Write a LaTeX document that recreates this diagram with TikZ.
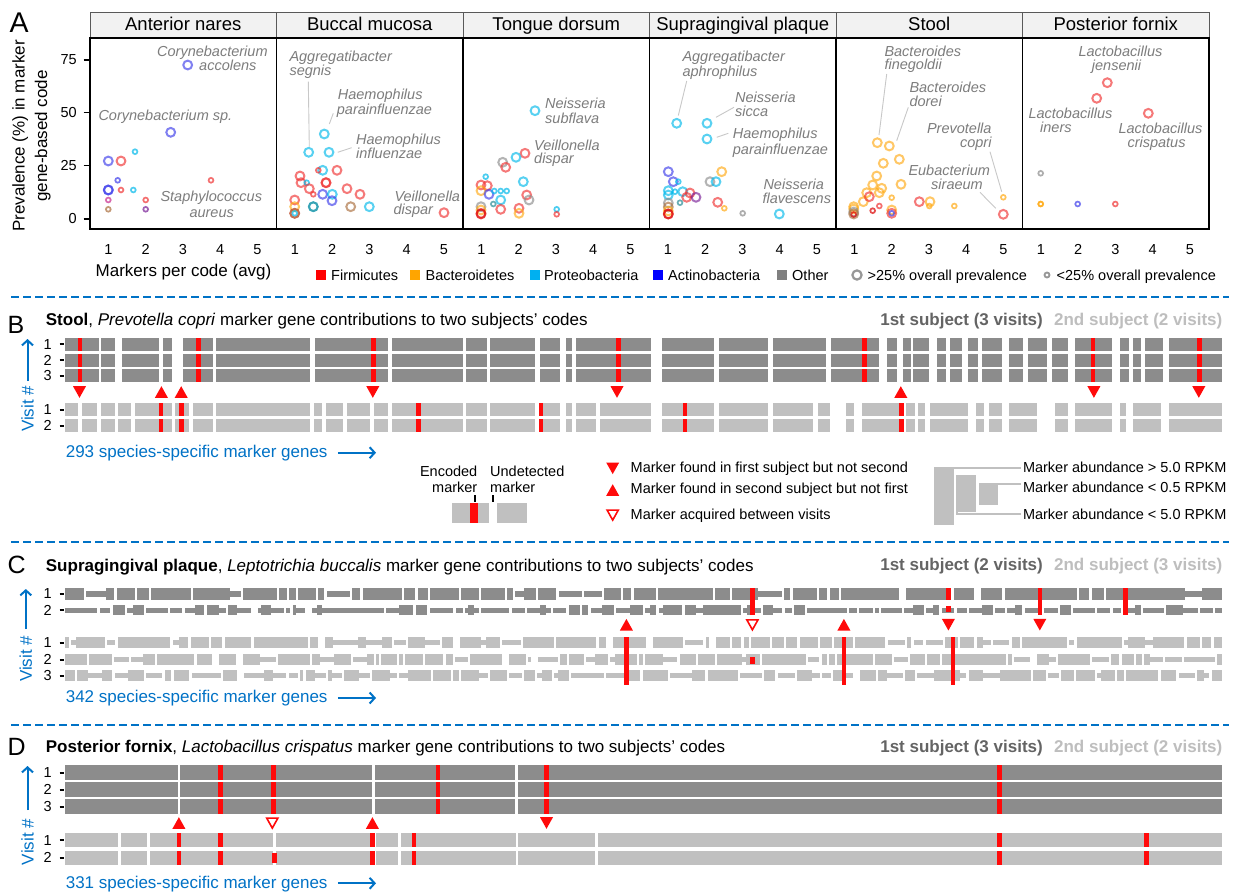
\documentclass[tikz,border=0pt]{standalone}
\usepackage{fontspec}
\setmainfont{Liberation Sans}
\usetikzlibrary{arrows.meta}
\newcommand{\setfs}[1]{\fontsize{#1}{#1}\selectfont}
\definecolor{dk}{RGB}{140,140,140}
\definecolor{lt}{RGB}{192,192,192}
\definecolor{mr}{RGB}{255,10,10}
\definecolor{vb}{RGB}{0,114,198}
\definecolor{labg}{RGB}{125,125,125}
\definecolor{leadg}{RGB}{200,200,200}
\definecolor{stripg}{RGB}{242,242,242}
\definecolor{sub1}{RGB}{100,100,100}
\definecolor{sub2}{RGB}{190,190,190}
\definecolor{pR}{RGB}{240,50,50}
\definecolor{pO}{RGB}{255,170,20}
\definecolor{pC}{RGB}{0,185,235}
\definecolor{pB}{RGB}{60,60,235}
\definecolor{pG}{RGB}{140,140,140}
\definecolor{pM}{RGB}{200,40,140}
\definecolor{pP}{RGB}{120,30,150}
\definecolor{pN}{RGB}{170,110,60}
\definecolor{pT}{RGB}{40,140,150}
\definecolor{pD}{RGB}{220,0,0}
\definecolor{lgR}{RGB}{255,0,0}
\definecolor{lgO}{RGB}{255,165,0}
\definecolor{lgC}{RGB}{0,176,240}
\definecolor{lgB}{RGB}{0,0,255}
\definecolor{lgG}{RGB}{128,128,128}
\tikzset{
  lab/.style={font=\setfs{14.5}\itshape, text=labg, inner sep=0pt, anchor=base west},
  labr/.style={lab, anchor=base east},
  tick/.style={font=\setfs{14.5}, inner sep=0pt},
  lgd/.style={font=\setfs{14.5}, inner sep=0pt, anchor=base west},
  leader/.style={draw=leadg, line width=0.9pt},
  ptb/.style={line width=2pt, radius=4.4pt, draw opacity=0.65},
  pts/.style={line width=1.7pt, radius=2.4pt, draw opacity=0.7},
  ttl/.style={font=\setfs{17}, inner sep=0pt, anchor=base west},
  letter/.style={font=\setfs{25}, inner sep=0pt, anchor=base west},
  subj/.style={font=\setfs{17}\bfseries, inner sep=0pt, anchor=base east},
  rowl/.style={font=\setfs{14.5}, inner sep=0pt, anchor=east},
  visit/.style={font=\setfs{17}, text=vb, rotate=90, inner sep=0pt},
  varrow/.style={draw=vb, line width=2pt, -{Straight Barb[length=5pt,width=11pt,line width=2pt]}},
  sep/.style={draw=vb, line width=1.6pt, dash pattern=on 8pt off 4pt},
  blue text/.style={font=\setfs{17}, text=vb, inner sep=0pt, anchor=base west}
}
\newcommand{\pts}[1]{\foreach \px/\py/\pc/\ps in {#1}{\draw[pt\ps, draw=p\pc] (\px,\py) circle;}}
\newcommand{\segrow}[4]{\foreach \sa/\sb in {#4}{\fill[#3] (\sa,#1-#2/2) rectangle (\sb,#1+#2/2);}}
\newcommand{\redv}[3]{\foreach \sa in {#3}{\fill[mr] (\sa-2.3,#1) rectangle (\sa+2.3,#2);}}
\newcommand{\tdn}[2]{\fill[mr] (#1-6.5,#2-5.8) -- (#1+6.5,#2-5.8) -- (#1,#2+5.8) -- cycle;}
\newcommand{\tup}[2]{\fill[mr] (#1-6.5,#2+5.8) -- (#1+6.5,#2+5.8) -- (#1,#2-5.8) -- cycle;}
\newcommand{\tho}[2]{\draw[mr, line width=1.6pt] (#1-5.6,#2-4.9) -- (#1+5.6,#2-4.9) -- (#1,#2+5.1) -- cycle;}
\newcommand{\rowlab}[3]{\node[rowl] (#3) at (52,#1) {#2}; \draw[line width=2pt] (59.5,#1) -- (63.8,#1);}
% textured row: y, height, colour, p(thin), seed, min length, max length
\newcommand{\texrow}[7]{%
  \pgfmathsetseed{#5}%
  \xdef\curx{65}%
  \foreach \ti in {0,...,260}{%
    \pgfmathsetmacro{\len}{#6+rnd*(#7-#6)}%
    \pgfmathsetmacro{\hh}{rnd<#4 ? 0.25*#2 : 0.5*#2}%
    \pgfmathsetmacro{\xb}{min(\curx+\len,1222)}%
    \ifdim\curx pt<1221pt \fill[#3] (\curx,#1-\hh) rectangle (\xb,#1+\hh);\fi
    \pgfmathsetmacro{\rr}{rnd}%
    \pgfmathsetmacro{\gp}{\rr<0.05 ? 7 : (\rr<0.55 ? 2.3 : 0)}%
    \pgfmathsetmacro{\nx}{\xb+\gp}%
    \xdef\curx{\nx}%
  }}
\begin{document}
\begin{tikzpicture}[x=1pt,y=-1pt]
\useasboundingbox (0,0) rectangle (1234,893);
\fill[white] (0,0) rectangle (1234,893);

%================ PANEL A ================
\node[font=\setfs{28.5}, inner sep=0pt, anchor=base west] (A) at (9.5,32.3) {A};
\foreach \i/\fname in {0/Anterior nares,1/Buccal mucosa,2/Tongue dorsum,3/Supragingival plaque,4/Stool,5/Posterior fornix}{
  \pgfmathsetmacro{\L}{90+186.5*\i}
  \pgfmathsetmacro{\R}{\L+186.5}
  \pgfmathsetmacro{\M}{\L+93.25}
  \draw[fill=stripg, draw=black!65, line width=0.8pt] (\L,12.7) rectangle (\R,38.3);
  \node[font=\setfs{18.5}, inner sep=0pt, anchor=base] (ft\i) at (\M,31) {\fname};
  \foreach \v in {1,...,5}{
    \node[tick, anchor=base] (xt\i\v) at ({\L+18.3+37.25*(\v-1)},255) {\v};
  }
}
% y axis
\foreach \v/\yy in {0/219,25/165.7,50/112.7,75/60}{
  \draw[line width=1.3pt] (83.5,\yy) -- (90,\yy);
  \node[tick, anchor=east] (yt\v) at (77,\yy) {\v};
}
\node[font=\fontsize{17}{22.5}\selectfont, rotate=90, align=center, inner sep=0pt] (ylab) at (31.5,136) {Prevalence (\%) in marker\\gene-based code};
\node[font=\setfs{17}, anchor=base, inner sep=0pt] (xlab) at (183.5,277) {Markers per code (avg)};

% leader lines
\draw[leader] (308.3,81.7) -- (309.3,146.7);
\draw[leader] (333.3,113.3) -- (329.3,124);
\draw[leader] (351.7,147.7) -- (337.7,152.3);
\draw[leader] (686.7,81) -- (678.3,115.5);
\draw[leader] (734,107.3) -- (716,117.3);
\draw[leader] (728.3,133.3) -- (716.7,137.3);
\draw[leader] (886.7,74) -- (879,135);
\draw[leader] (908.3,107.3) -- (896.7,140.7);
\draw[leader] (990,151.7) -- (1001.7,191.7);
\draw[leader] (980,192.3) -- (995.7,208.3);

% points
\pts{187.7/65/B/b, 170.7/132.3/B/b, 135/151.7/C/s, 108.3/161/B/b, 121/161/R/b, 117.7/180.3/B/s, 211/180.3/R/s, 108.3/190/B/b, 108.3/190/B/b, 121/190/R/s, 133.3/190/C/s, 108.3/200/M/s, 145.7/200/R/s, 108.3/209.3/N/s, 145.7/209.3/P/s}
\pts{324.3/134/C/b, 308.7/152.3/C/b, 329/152.3/C/b, 300/176/R/b, 322.7/170.3/C/b, 318.3/170.3/R/s, 337/170.3/R/b, 301/182.7/R/b, 306.7/182.7/C/s, 326/182.7/R/b, 326/182.7/R/b, 309.3/188.7/R/b, 313.3/194.3/R/s, 322.7/194.3/B/b, 332.3/194.3/C/b, 347/188.7/R/b, 360/194.3/R/b, 332/200.7/B/b, 313.3/206.7/C/b, 313.3/206.7/T/b, 369.3/206.7/C/b, 350.7/206.7/N/b, 294.7/200/R/b, 294.7/206.7/O/b, 294.7/213.3/R/b, 294.7/213.3/N/b, 294.7/213.3/C/s, 444/212.7/R/b}
\pts{535/110.7/C/b, 525/153.3/R/b, 516/157.3/C/b, 502.7/162.3/G/b, 505.7/167.3/R/b, 485.7/176.7/C/s, 523.3/181.7/C/b, 481/185/R/b, 487.3/185.7/R/b, 481/190.7/O/b, 489/194.3/B/b, 494.3/191/C/s, 500.7/191/C/s, 506.7/191/C/s, 500.7/200/C/b, 493.3/204/T/s, 526.7/195/R/b, 529/200/G/b, 500.7/209.3/R/b, 519/208.3/R/b, 519/213.3/O/b, 556.7/209.3/C/s, 556.7/214.3/R/s, 481/206.7/G/b, 481/210/O/b, 481/213.3/R/b, 481/214/D/b}
\pts{676.7/123.3/C/b, 707/123.3/C/b, 707/139/C/b, 721.7/171.7/O/b, 710/181.7/G/b, 716/181.7/C/b, 668.3/171.7/B/b, 673.3/181.7/B/b, 678.3/181.7/C/s, 668.3/190.7/C/b, 668.3/195/C/b, 675/191.7/C/s, 682.7/191.7/C/b, 686.7/197.3/R/b, 690/193/R/b, 696/197.3/P/b, 680/202.7/T/s, 717.7/202.3/R/b, 724.3/208.3/O/s, 742.7/213.3/G/s, 779.3/214/C/b, 668.3/203/G/b, 668.3/207/N/b, 668.3/211/O/b, 668.3/214/R/b, 668.3/214/D/b}
\pts{877.3/142.7/O/b, 889.3/146/O/b, 899.3/159.3/O/b, 883.3/163.3/O/b, 876.7/176/O/b, 901/184.3/O/b, 872.7/185/O/b, 881.7/188.3/O/b, 879.3/192.7/O/b, 866.7/192.7/O/b, 863.3/201.7/O/b, 891.7/197.7/O/s, 930/201.7/O/b, 929.3/206/O/s, 954.3/206/O/s, 891.7/210/O/b, 869.3/196.7/R/b, 879.3/206/R/s, 872.7/210.7/D/s, 919.3/201.7/R/b, 853.7/206.7/O/b, 853.7/209/O/b, 853.7/212/G/b, 853.7/214/N/b, 853.7/214.5/D/s, 891.7/213.3/R/b, 891.7/213.3/B/s, 1003.3/214.3/R/b, 1003.3/197.3/O/s}
\pts{1107.3/82.7/R/b, 1096.7/98.3/R/b, 1148.3/113.3/R/b, 1040.7/173.3/G/s, 1040.7/204/O/s, 1040.7/204/O/s, 1077.7/204/B/s, 1115.3/204/R/s}

% panel frames
\foreach \i in {0,...,5}{
  \pgfmathsetmacro{\L}{90+186.5*\i}
  \draw[line width=1.6pt] (\L,38.3) rectangle (\L+186.5,229.3);
}

% species labels
\node[lab] (l1a) at (157,56.5) {Corynebacterium};
\node[lab] (l1b) at (199,71) {accolens};
\node[lab] (l2) at (98.3,121) {Corynebacterium sp.};
\node[lab] (l3a) at (160.3,201.5) {Staphylococcus};
\node[lab] (l3b) at (189.3,217.5) {aureus};
\node[lab] (l4a) at (289.3,62) {Aggregatibacter};
\node[lab] (l4b) at (289.3,75.5) {segnis};
\node[lab] (l5a) at (337.7,100) {Haemophilus};
\node[lab] (l5b) at (336.7,115) {parainfluenzae};
\node[lab] (l6a) at (356,144.5) {Haemophilus};
\node[lab] (l6b) at (356,158.5) {influenzae};
\node[lab] (l7a) at (394.3,201.5) {Veillonella};
\node[lab] (l7b) at (393.3,215) {dispar};
\node[lab] (l8a) at (545,109) {Neisseria};
\node[lab] (l8b) at (545,124) {subflava};
\node[lab] (l9a) at (534,150.5) {Veillonella};
\node[lab] (l9b) at (534,164) {dispar};
\node[lab] (l10a) at (682.3,62) {Aggregatibacter};
\node[lab] (l10b) at (682.3,77) {aphrophilus};
\node[lab] (l11a) at (735,103) {Neisseria};
\node[lab] (l11b) at (735,116.5) {sicca};
\node[lab] (l12a) at (732.7,139) {Haemophilus};
\node[lab] (l12b) at (732.7,155) {parainfluenzae};
\node[lab] (l13a) at (763.3,190) {Neisseria};
\node[lab] (l13b) at (762.3,204) {flavescens};
\node[lab] (l14a) at (884.3,56.5) {Bacteroides};
\node[lab] (l14b) at (884.3,70) {finegoldii};
\node[lab] (l15a) at (909.3,93) {Bacteroides};
\node[lab] (l15b) at (909.3,106.5) {dorei};
\node[labr] (l16a) at (991.7,134) {Prevotella};
\node[labr] (l16b) at (991.7,148) {copri};
\node[lab] (l17a) at (908.3,175.5) {Eubacterium};
\node[labr] (l17b) at (983,189.5) {siraeum};
\node[lab] (l18a) at (1078.3,56.5) {Lactobacillus};
\node[lab] (l18b) at (1091.7,71) {jensenii};
\node[lab] (l19a) at (1028.3,119) {Lactobacillus};
\node[lab] (l19b) at (1040,132.5) {iners};
\node[lab] (l20a) at (1118.3,134) {Lactobacillus};
\node[lab] (l20b) at (1127.3,148) {crispatus};

% legend A
\fill[lgR] (316,270) rectangle (326,280);
\node[lgd] (lgR) at (331,280) {Firmicutes};
\fill[lgO] (410,270) rectangle (420,280);
\node[lgd] (lgO) at (425.5,280) {Bacteroidetes};
\fill[lgC] (530,270) rectangle (540,280);
\node[lgd] (lgC) at (544,280) {Proteobacteria};
\fill[lgB] (653,270) rectangle (663,280);
\node[lgd] (lgB) at (668,280) {Actinobacteria};
\fill[lgG] (777,270) rectangle (787,280);
\node[lgd] (lgG) at (792,280) {Other};
\draw[pG, line width=2.2pt, opacity=0.9] (857,275) circle[radius=4.6pt];
\node[lgd] (lgbig) at (867.5,280) {>25\% overall prevalence};
\draw[pG, line width=1.8pt, opacity=0.9] (1047,275) circle[radius=2.5pt];
\node[lgd] (lgsmall) at (1056.5,280) {<25\% overall prevalence};

%================ separators ================
\draw[sep] (11,297) -- (1229,297);
\draw[sep] (11,541.7) -- (1229,541.7);
\draw[sep] (11,725) -- (1229,725);

%================ PANEL B ================
\node[letter] (B) at (7.5,333) {B};
\node[ttl] (tB) at (45.7,325) {\textbf{Stool}, \textit{Prevotella copri} marker gene contributions to two subjects’ codes};
\node[subj, text=sub2] (sB2) at (1222.5,325) {2nd subject (2 visits)};
\node[subj, text=sub1] (sB1) at (1043,325) {1st subject (3 visits)};
\foreach \yy in {344.3,360,375.8}{
  \segrow{\yy}{13}{dk}{64.8/99.4, 101.4/115.3, 122.4/159, 163/171.7, 182.8/212.6, 215.8/310, 315.2/387.5, 391.5/463, 465.8/486.9, 489.7/534.6, 539.7/560.4, 566.4/572.3, 575.5/650.8, 661.8/713.8, 719/767.9, 772.8/826.4, 830.5/878.5, 886.6/896.7, 902.8/911, 913/928.5, 936.6/945.5, 949.6/961.8, 967.9/978, 982/1002.4, 1008.5/1022.8, 1027.6/1047.2, 1052/1068, 1074.8/1112.2, 1120.3/1128.5, 1132.5/1140.7, 1144.7/1163, 1169/1222}
  \redv{\yy-6.5}{\yy+6.5}{79.9, 198.4, 373.2, 618.4, 864.6, 1093.1, 1199.2}
}
\foreach \yy in {409.7,425.5}{
  \segrow{\yy}{12.5}{lt}{64.8/77.5, 81.5/97.4, 101.4/114.5, 118.4/131.2, 135.1/171.7, 175/188.8, 192.8/212.6, 215.8/310, 314/322, 326/342.6, 346.6/369.6, 373.6/387.5, 391.5/463, 465.8/486.9, 489.7/534.6, 538.6/560.4, 566.4/572.3, 575.5/596.2, 600/650.8, 661.8/713.8, 719/767.9, 772.8/813.4, 817.5/829.7, 846/854, 862.2/903.7, 906/915, 918/925, 930/967.9, 976/984, 989.4/1002.4, 1008.5/1037, 1054.5/1067.5, 1074.8/1112.2, 1120.3/1126.4, 1132.5/1161, 1169/1222}
  \redv{\yy-6.25}{\yy+6.25}{161, 181.2, 418.6, 541.1, 685, 901.2}
}
\rowlab{344.3}{1}{rB1}\rowlab{360}{2}{rB2}\rowlab{375.8}{3}{rB3}
\rowlab{409.7}{1}{rB4}\rowlab{425.5}{2}{rB5}
\tdn{79.5}{392}\tup{161.4}{392}\tup{181.2}{392}\tdn{372.8}{392}\tdn{617}{392}\tup{900.8}{392}\tdn{1093.9}{392}\tdn{1198.8}{392}
\coordinate (vB1) at (27.5,381);
\coordinate (vB2) at (27.5,339);
\draw[varrow] (vB1) -- (vB2);
\node[visit] (visB) at (27.5,409) {Visit \#};
\node[blue text] (spB) at (65.6,457) {293 species-specific marker genes};
\coordinate (aB1) at (337.8,452.7);
\coordinate (aB2) at (376,452.7);
\draw[varrow] (aB1) -- (aB2);

% legend B
\node[lgd, align=right, anchor=south east, font=\fontsize{14.5}{16.5}\selectfont] (enc) at (477.5,493) {Encoded\\marker};
\node[lgd, align=left, anchor=south west, font=\fontsize{14.5}{16.5}\selectfont] (und) at (490,493) {Undetected\\marker};
\draw[line width=2pt] (475,495) -- (475,501.7);
\draw[line width=2pt] (492.7,495) -- (492.7,501.7);
\fill[lt] (451.7,503.3) rectangle (489,522.7);
\fill[mr] (470,503.3) rectangle (477.7,522.7);
\fill[lt] (496.7,503.3) rectangle (526.7,522.7);
\tdn{612.7}{468.3}\tup{612.7}{490}\tho{612.7}{515}
\node[lgd] (t1) at (630.5,472) {Marker found in first subject but not second};
\node[lgd] (t2) at (630.5,493.5) {Marker found in second subject but not first};
\node[lgd] (t3) at (630.5,519) {Marker acquired between visits};
\fill[lt] (934.1,466.7) rectangle (953.7,525);
\fill[lt] (958,475) rectangle (976,511.7);
\fill[lt] (979,485) rectangle (998.4,505);
\node[lgd] (ab1) at (1022.8,472) {Marker abundance > 5.0 RPKM};
\node[lgd] (ab2) at (1022.8,492) {Marker abundance < 0.5 RPKM};
\node[lgd] (ab3) at (1022.8,519) {Marker abundance < 5.0 RPKM};
\coordinate (ab1s) at (953.7,467.7);
\coordinate (ab2s) at (979,483.5);
\coordinate (ab3s) at (957,475);
\draw[lt, line width=2pt] (ab1s) -- (1020.5,467.7);
\draw[lt, line width=2pt] (ab2s) -- (1020.5,483.5);
\draw[lt, line width=2pt] (ab3s) -- (957,513.5) -- (1020.5,513.5);

%================ PANEL C ================
\node[letter] (C) at (7.5,573) {C};
\node[ttl] (tC) at (45.7,571) {\textbf{Supragingival plaque}, \textit{Leptotrichia buccalis} marker gene contributions to two subjects’ codes};
\node[subj, text=sub2] (sC2) at (1222.5,570.5) {2nd subject (3 visits)};
\node[subj, text=sub1] (sC1) at (1043,570.5) {1st subject (2 visits)};
\texrow{594}{11.5}{dk}{0.1}{11}{5}{26}
\texrow{610}{10}{dk}{0.7}{12}{3}{14}
\texrow{642.5}{11.5}{lt}{0.2}{13}{3}{20}
\texrow{659.5}{11}{lt}{0.3}{14}{3}{18}
\texrow{675.7}{11}{lt}{0.45}{15}{3}{18}
\redv{588}{615}{752.4, 1039.8, 1125.6}
\redv{588}{600}{948.4}
\redv{606}{612}{948.4}
\redv{636.5}{685}{626.4, 843.9, 952.8}
\redv{657}{663.5}{752.4}
\rowlab{594}{1}{rC1}\rowlab{610}{2}{rC2}
\rowlab{642.5}{1}{rC3}\rowlab{659.5}{2}{rC4}\rowlab{675.7}{3}{rC5}
\tup{626.4}{624.7}\tho{752.4}{624.7}\tup{843.9}{624.7}\tdn{948.4}{624.7}\tdn{1039.8}{624.7}
\coordinate (vC1) at (25.8,629);
\coordinate (vC2) at (25.8,589);
\draw[varrow] (vC1) -- (vC2);
\node[visit] (visC) at (25.8,659) {Visit \#};
\node[blue text] (spC) at (65.6,702.5) {342 species-specific marker genes};
\coordinate (aC1) at (337.8,698);
\coordinate (aC2) at (376,698);
\draw[varrow] (aC1) -- (aC2);

%================ PANEL D ================
\node[letter] (D) at (7.5,755) {D};
\node[ttl] (tD) at (45.7,752.5) {\textbf{Posterior fornix}, \textit{Lactobacillus crispatus} marker gene contributions to two subjects’ codes};
\node[subj, text=sub2] (sD2) at (1222.5,752) {2nd subject (2 visits)};
\node[subj, text=sub1] (sD1) at (1043,752) {1st subject (3 visits)};
\foreach \yy in {772.5,789.5,806.5}{
  \segrow{\yy}{14.5}{dk}{64.8/177.6, 180.4/371.8, 375.4/515, 518/1222}
  \redv{\yy-7.25}{\yy+7.25}{220.6, 273.4, 438, 546.5, 999.2}
}
\foreach \yy in {840.3,857.5}{
  \segrow{\yy}{14}{lt}{64.8/118.4, 121.2/147, 150/273, 275.5/371.5, 375.6/397.5, 400.6/515.5, 517.5/595, 598/1222}
  \redv{\yy-7}{\yy+7}{178.9, 220.6, 372.4, 414.1, 999.2, 1146.7}
}
\redv{852.7}{862.7}{274.2}
\rowlab{772.5}{1}{rD1}\rowlab{789.5}{2}{rD2}\rowlab{806.5}{3}{rD3}
\rowlab{840.3}{1}{rD4}\rowlab{857.5}{2}{rD5}
\tup{178.9}{823}\tho{272.3}{823}\tup{372.4}{823}\tdn{546.5}{823}
\coordinate (vD1) at (27.5,810);
\coordinate (vD2) at (27.5,766);
\draw[varrow] (vD1) -- (vD2);
\node[visit] (visD) at (27.5,842) {Visit \#};
\node[blue text] (spD) at (65.6,888.5) {331 species-specific marker genes};
\coordinate (aD1) at (337.8,883.3);
\coordinate (aD2) at (376,883.3);
\draw[varrow] (aD1) -- (aD2);
\end{tikzpicture}
\end{document}
